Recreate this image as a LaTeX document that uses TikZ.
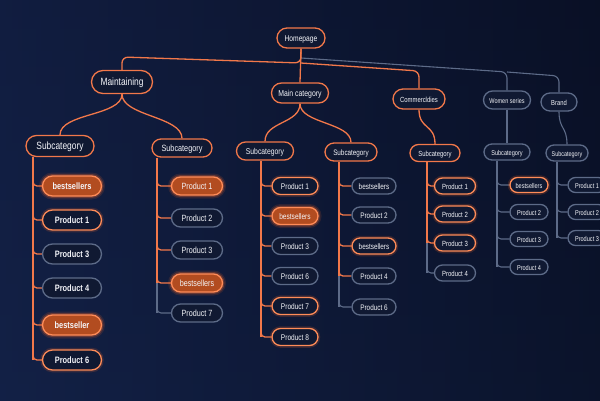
\documentclass[tikz,border=0pt]{standalone}
\usepackage{fontspec}
\setmainfont{Liberation Sans}
\usetikzlibrary{shapes.misc,calc}
\definecolor{bgT}{HTML}{0E1734}
\definecolor{bgB}{HTML}{111E40}
\definecolor{bgL}{HTML}{14234C}
\definecolor{bgR}{HTML}{060A18}
\definecolor{org}{HTML}{F2784A}
\definecolor{orgbright}{HTML}{FF8C58}
\definecolor{orgfill}{HTML}{B24C20}
\definecolor{orgglow}{HTML}{FF6A2A}
\definecolor{gry}{HTML}{5D6B88}
\definecolor{nfill}{HTML}{101932}
\definecolor{txt}{HTML}{F4F5F9}
\newcommand{\lbl}[1]{\scalebox{0.8}[1]{#1}}
\pgfdeclarelayer{bgl}
\pgfdeclarelayer{lines}
\pgfsetlayers{bgl,lines,main}
\tikzset{
  bx/.style n args={3}{rounded rectangle, inner sep=0pt, minimum width=#1pt,
    minimum height=#2pt, font=\fontsize{#3pt}{#3pt}\selectfont, text=txt,
    fill=nfill, line width=1.3pt, text height=1.38ex, text depth=0pt},
  ob/.style={draw=org},
  gb/.style={draw=gry},
  glowbig/.style={preaction={draw=orgglow, line width=7pt, opacity=0.13},
                  preaction={draw=orgglow, line width=4pt, opacity=0.28}},
  glowsmall/.style={preaction={draw=orgglow, line width=4.5pt, opacity=0.18}},
  fo/.style={draw=orgbright, fill=orgfill, glowbig},
  og/.style={draw=orgbright, glowsmall},
  ol/.style={draw=org, line width=1.3pt},
  gl/.style={draw=gry, line width=1.1pt},
  colA/.style={bx={59}{20}{9.3}},
  colB/.style={bx={51}{18}{9}},
  colC/.style={bx={46}{17}{8.2}},
  colD/.style={bx={44}{16}{8}},
  colE/.style={bx={41}{16}{7.5}},
  colF/.style={bx={38}{15}{7}},
  colG/.style={bx={38}{15}{7}},
}
\begin{document}
\begin{tikzpicture}[x=1pt,y=-1pt]
\useasboundingbox (0,0) rectangle (600,400);
\begin{pgfonlayer}{bgl}
  \shade[top color=bgT, bottom color=bgB] (0,0) rectangle (600,400);
  \shade[left color=bgL, right color=bgR, opacity=0.5] (0,0) rectangle (600,400);
\end{pgfonlayer}

% level 1 and 2
\node[bx={48}{20}{8.4}, ob] (home) at (301,38) {\lbl{Homepage}};
\node[bx={61}{23}{10.5}, ob] (mnt) at (122,82) {\lbl{Maintaining}};
\node[bx={57}{20}{8.6}, ob] (mc) at (300,93) {\lbl{Main category}};
\node[bx={52}{20}{7.4}, ob] (com) at (419,99) {\lbl{Commercldies}};
\node[bx={47}{18}{6.9}, gb] (ws) at (507,100) {\lbl{Women series}};
\node[bx={36}{18}{7.3}, gb] (br) at (559,102) {\lbl{Brand}};

% level 3
\node[bx={68}{21}{10.5}, ob] (sA) at (60,146) {\lbl{Subcategory}};
\node[bx={60}{18}{9.1}, ob] (sB) at (182,148) {\lbl{Subcategory}};
\node[bx={57}{18}{8.5}, ob] (sC) at (265,151) {\lbl{Subcategory}};
\node[bx={52}{18}{7.9}, ob] (sD) at (351,152) {\lbl{Subcategory}};
\node[bx={50}{17}{7.4}, ob] (sE) at (435,153) {\lbl{Subcategory}};
\node[bx={46}{16}{7}, gb] (sF) at (507,152) {\lbl{Subcategory}};
\node[bx={42}{16}{6.8}, gb] (sG) at (567,153) {\lbl{Subcategory}};

% junctions
\coordinate (hjL) at (301,63);
\coordinate (hjG) at (301,58);
\coordinate (cM) at (122,57);
\coordinate (cC) at (419,71);
\coordinate (cW) at (507,72);
\coordinate (cB) at (559,76);
\coordinate (tA) at (33,0 |- sA.south);
\coordinate (tB) at (157,0 |- sB.south);
\coordinate (tC) at (261,0 |- sC.south);
\coordinate (tD) at (339,0 |- sD.south);
\coordinate (tE) at (427,0 |- sE.south);
\coordinate (tF) at (497,0 |- sF.south);
\coordinate (tG) at (557,0 |- sG.south);

\begin{pgfonlayer}{lines}
  \draw[gl, rounded corners=6pt] (hjG) -- (cW) -- (ws.north);
  \draw[gl, rounded corners=6pt] (cW) -- (cB) -- (br.north);
  \draw[ol, rounded corners=6pt] (home.south) -- (hjL) -- (cM) -- (mnt.north);
  \draw[ol] (home.south) -- (mc.north);
  \draw[ol, rounded corners=6pt] (hjL) -- (cC) -- (com.north);
  \draw[ol] (mnt.south) .. controls +(0,22) and +(0,-22) .. (sA.north);
  \draw[ol] (mnt.south) .. controls +(0,22) and +(0,-22) .. (sB.north);
  \draw[ol] (mc.south) .. controls +(0,20) and +(0,-20) .. (sC.north);
  \draw[ol] (mc.south) .. controls +(0,20) and +(0,-20) .. (sD.north);
  \draw[ol] (com.south) .. controls +(0,20) and +(0,-20) .. (sE.north);
  \draw[gl] (ws.south) -- (sF.north);
  \draw[gl] (br.south) .. controls +(0,18) and +(0,-18) .. (sG.north);
\end{pgfonlayer}

% column A
\foreach \nm/\yy/\tx/\st/\lc [remember=\nm as \pn (initially tA)] in
  {pA1/186/bestsellers/fo/ol, pA2/220/Product 1/og/ol, pA3/254/Product 3/gb/ol,
   pA4/288/Product 4/gb/ol, pA5/325/bestseller/fo/ol, pA6/360/Product 6/og/ol}{
  \node[colA,\st] (\nm) at (72,\yy) {\lbl{\bfseries \tx}};
  \begin{pgfonlayer}{lines}
    \draw[\lc] (tA |- \pn) -- (tA |- \nm);
    \draw[\lc, rounded corners=4pt] ($(tA |- \nm)+(0,-7)$) |- (\nm.west);
  \end{pgfonlayer}
}
% column B
\foreach \nm/\yy/\tx/\st/\lc [remember=\nm as \pn (initially tB)] in
  {pB1/186/Product 1/fo/ol, pB2/218/Product 2/gb/ol, pB3/250/Product 3/gb/ol,
   pB4/283/bestsellers/fo/ol, pB5/313/Product 7/gb/gl}{
  \node[colB,\st] (\nm) at (197,\yy) {\lbl{\tx}};
  \begin{pgfonlayer}{lines}
    \draw[\lc] (tB |- \pn) -- (tB |- \nm);
    \draw[\lc, rounded corners=4pt] ($(tB |- \nm)+(0,-7)$) |- (\nm.west);
  \end{pgfonlayer}
}
% column C
\foreach \nm/\yy/\tx/\st/\lc [remember=\nm as \pn (initially tC)] in
  {pC1/186/Product 1/og/ol, pC2/216/bestsellers/fo/ol, pC3/246/Product 3/gb/ol,
   pC4/276/Product 6/gb/ol, pC5/306/Product 7/og/ol, pC6/337/Product 8/og/ol}{
  \node[colC,\st] (\nm) at (295,\yy) {\lbl{\tx}};
  \begin{pgfonlayer}{lines}
    \draw[\lc] (tC |- \pn) -- (tC |- \nm);
    \draw[\lc, rounded corners=4pt] ($(tC |- \nm)+(0,-6)$) |- (\nm.west);
  \end{pgfonlayer}
}
% column D
\foreach \nm/\yy/\tx/\st/\lc [remember=\nm as \pn (initially tD)] in
  {pD1/186/bestsellers/gb/ol, pD2/215/Product 2/gb/ol, pD3/246/bestsellers/og/ol,
   pD4/276/Product 4/gb/ol, pD5/307/Product 6/gb/gl}{
  \node[colD,\st] (\nm) at (374,\yy) {\lbl{\tx}};
  \begin{pgfonlayer}{lines}
    \draw[\lc] (tD |- \pn) -- (tD |- \nm);
    \draw[\lc, rounded corners=4pt] ($(tD |- \nm)+(0,-6)$) |- (\nm.west);
  \end{pgfonlayer}
}
% column E
\foreach \nm/\yy/\tx/\st/\lc [remember=\nm as \pn (initially tE)] in
  {pE1/186/Product 1/og/ol, pE2/214/Product 2/og/ol, pE3/243/Product 3/og/ol,
   pE4/273/Product 4/gb/gl}{
  \node[colE,\st] (\nm) at (455,\yy) {\lbl{\tx}};
  \begin{pgfonlayer}{lines}
    \draw[\lc] (tE |- \pn) -- (tE |- \nm);
    \draw[\lc, rounded corners=4pt] ($(tE |- \nm)+(0,-6)$) |- (\nm.west);
  \end{pgfonlayer}
}
% column F
\foreach \nm/\yy/\tx/\st/\lc [remember=\nm as \pn (initially tF)] in
  {pF1/185/bestsellers/og/gl, pF2/212/Product 2/gb/gl, pF3/239/Product 3/gb/gl,
   pF4/267/Product 4/gb/gl}{
  \node[colF,\st] (\nm) at (529,\yy) {\lbl{\tx}};
  \begin{pgfonlayer}{lines}
    \draw[\lc] (tF |- \pn) -- (tF |- \nm);
    \draw[\lc, rounded corners=4pt] ($(tF |- \nm)+(0,-6)$) |- (\nm.west);
  \end{pgfonlayer}
}
% column G
\foreach \nm/\yy/\tx/\st/\lc [remember=\nm as \pn (initially tG)] in
  {pG1/185/Product 1/gb/gl, pG2/212/Product 2/gb/gl, pG3/238/Product 3/gb/gl}{
  \node[colG,\st] (\nm) at (587,\yy) {\lbl{\tx}};
  \begin{pgfonlayer}{lines}
    \draw[\lc] (tG |- \pn) -- (tG |- \nm);
    \draw[\lc, rounded corners=4pt] ($(tG |- \nm)+(0,-6)$) |- (\nm.west);
  \end{pgfonlayer}
}
\end{tikzpicture}
\end{document}
